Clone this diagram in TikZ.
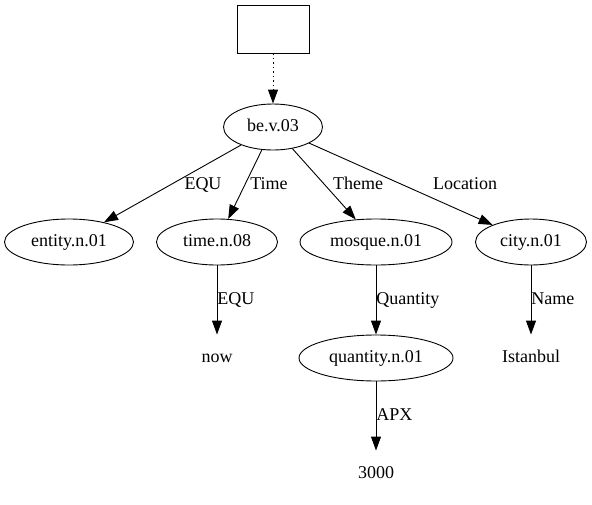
\documentclass[tikz,border=0pt]{standalone}
\usepackage{fontspec}
\setmainfont{Liberation Serif}
\usetikzlibrary{arrows.meta,shapes.geometric}
\begin{document}
\begin{tikzpicture}[x=1pt,y=-1pt,line width=0.9pt,
    font=\fontsize{18}{20}\selectfont,
    sense/.style={draw,ellipse,inner sep=0pt,minimum height=46pt,text height=12pt,text depth=4pt},
    plain/.style={inner sep=0pt,minimum height=46pt,text height=12pt,text depth=4pt},
    edge/.style={-{Triangle[length=14pt,width=10pt]}},
    lbl/.style={inner sep=0pt,text height=12pt,text depth=4pt}]
  \useasboundingbox (0,0) rectangle (592,504);
  \draw
    (273,29) node[draw,inner sep=0pt,minimum width=72pt,minimum height=48pt] (top){}
    (273,127) node[sense,minimum width=99pt] (be){be.v.03}
    (69,242) node[sense,minimum width=129pt] (entity){entity.n.01}
    (217,242) node[sense,minimum width=121pt] (time){time.n.08}
    (376,242) node[sense,minimum width=152pt] (mosque){mosque.n.01}
    (531,242) node[sense,minimum width=111pt] (city){city.n.01}
    (217,358) node[plain] (now){now}
    (376,358) node[sense,minimum width=154pt] (quantity){quantity.n.01}
    (531,358) node[plain] (istanbul){Istanbul}
    (376,474) node[plain] (num){3000};
  \begin{scope}[edge]
    \draw[dash pattern=on 1.5pt off 3pt] (top) -- (be);
    \draw (be) -- (entity) node[lbl] (l1) at (203,185) {EQU};
    \draw (be) -- (time) node[lbl] (l2) at (269,185) {Time};
    \draw (be) -- (mosque) node[lbl] (l3) at (358,185) {Theme};
    \draw (be) -- (city) node[lbl] (l4) at (465,185) {Location};
    \draw (time) -- (now) node[lbl,anchor=west] (l5) at (217,300) {EQU};
    \draw (mosque) -- (quantity) node[lbl,anchor=west] (l6) at (376,300) {Quantity};
    \draw (city) -- (istanbul) node[lbl,anchor=west] (l7) at (531,300) {Name};
    \draw (quantity) -- (num) node[lbl,anchor=west] (l8) at (376,416) {APX};
  \end{scope}
\end{tikzpicture}
\end{document}
